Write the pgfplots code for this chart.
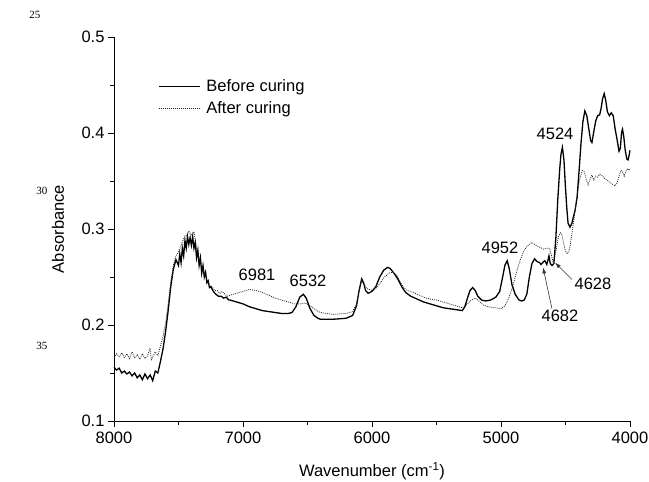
\documentclass[border=0pt]{standalone}
\usepackage{fontspec}
\setmainfont{Liberation Sans}
\newfontfamily\serifnum{Liberation Serif}
\usepackage{pgfplots}
\pgfplotsset{compat=1.18}
\usetikzlibrary{arrows.meta}

\pgfplotstableread{
x y
8000 0.156
7980 0.153
7960 0.155
7940 0.150
7920 0.152
7900 0.149
7880 0.151
7860 0.147
7840 0.150
7820 0.145
7800 0.148
7780 0.143
7760 0.149
7740 0.144
7720 0.148
7700 0.142
7680 0.152
7660 0.150
7640 0.162
7620 0.175
7600 0.193
7580 0.215
7560 0.240
7540 0.258
7520 0.268
7500 0.262
7490 0.274
7480 0.265
7470 0.280
7460 0.272
7450 0.288
7440 0.280
7430 0.292
7420 0.284
7410 0.291
7400 0.283
7390 0.292
7380 0.280
7370 0.286
7360 0.270
7350 0.278
7340 0.262
7330 0.270
7320 0.254
7310 0.262
7300 0.250
7290 0.255
7280 0.244
7270 0.246
7260 0.239
7250 0.240
7230 0.235
7210 0.232
7190 0.230
7170 0.230
7150 0.228
7130 0.229
7110 0.226
7100 0.226
7050 0.224
7000 0.222
6950 0.219
6900 0.217
6850 0.215
6800 0.214
6750 0.213
6700 0.212
6650 0.212
6620 0.213
6590 0.219
6560 0.229
6532 0.232
6510 0.228
6480 0.217
6450 0.210
6420 0.207
6400 0.206
6300 0.206
6200 0.207
6150 0.210
6120 0.220
6100 0.236
6080 0.248
6065 0.244
6050 0.236
6030 0.233
6000 0.235
5970 0.240
5940 0.250
5910 0.257
5880 0.260
5860 0.259
5830 0.254
5800 0.248
5770 0.240
5740 0.234
5700 0.230
5650 0.227
5600 0.224
5550 0.222
5500 0.220
5450 0.218
5400 0.217
5350 0.216
5300 0.215
5280 0.219
5260 0.228
5240 0.236
5220 0.239
5200 0.236
5180 0.230
5150 0.226
5120 0.225
5080 0.226
5040 0.229
5010 0.235
4990 0.248
4970 0.262
4952 0.267
4935 0.258
4915 0.242
4890 0.232
4860 0.226
4840 0.225
4820 0.226
4800 0.232
4780 0.250
4760 0.264
4740 0.269
4720 0.266
4700 0.265
4690 0.263
4682 0.264
4670 0.266
4660 0.267
4645 0.263
4635 0.268
4628 0.272
4618 0.264
4605 0.262
4590 0.264
4575 0.290
4560 0.330
4545 0.362
4535 0.378
4524 0.385
4512 0.372
4500 0.343
4490 0.322
4480 0.306
4465 0.302
4450 0.306
4440 0.312
4425 0.320
4410 0.333
4395 0.360
4380 0.389
4365 0.412
4350 0.423
4335 0.418
4320 0.405
4305 0.392
4295 0.390
4280 0.402
4265 0.413
4250 0.418
4235 0.419
4225 0.425
4212 0.436
4200 0.441
4188 0.434
4175 0.422
4160 0.418
4145 0.421
4130 0.418
4115 0.404
4100 0.393
4085 0.381
4075 0.384
4065 0.401
4058 0.404
4048 0.396
4038 0.383
4025 0.373
4015 0.372
4005 0.378
4000 0.382
}\before

\pgfplotstableread{
x y
8000 0.166
7980 0.170
7960 0.167
7940 0.171
7920 0.166
7900 0.170
7880 0.165
7860 0.172
7840 0.166
7820 0.169
7800 0.164
7780 0.170
7760 0.165
7740 0.168
7720 0.176
7710 0.163
7700 0.167
7680 0.172
7660 0.168
7640 0.178
7620 0.188
7600 0.202
7580 0.222
7560 0.245
7540 0.262
7520 0.272
7500 0.276
7480 0.283
7460 0.290
7440 0.293
7420 0.298
7400 0.293
7380 0.297
7360 0.280
7340 0.268
7320 0.262
7300 0.254
7280 0.248
7260 0.241
7240 0.240
7220 0.236
7200 0.236
7180 0.233
7160 0.235
7140 0.232
7120 0.230
7100 0.231
7050 0.233
7000 0.235
6950 0.237
6900 0.236
6850 0.234
6800 0.231
6750 0.228
6700 0.226
6650 0.224
6600 0.222
6550 0.222
6520 0.223
6480 0.220
6440 0.216
6400 0.213
6300 0.211
6200 0.212
6150 0.214
6120 0.222
6100 0.235
6080 0.246
6060 0.242
6040 0.238
6000 0.236
5970 0.238
5940 0.243
5910 0.249
5870 0.254
5840 0.255
5810 0.252
5790 0.247
5760 0.240
5730 0.236
5700 0.235
5650 0.232
5600 0.229
5550 0.227
5500 0.226
5450 0.224
5400 0.222
5350 0.220
5300 0.218
5260 0.222
5230 0.226
5200 0.228
5170 0.225
5140 0.221
5100 0.219
5050 0.218
5000 0.217
4970 0.220
4940 0.228
4910 0.240
4880 0.255
4850 0.268
4820 0.278
4790 0.283
4760 0.286
4730 0.283
4700 0.281
4670 0.279
4645 0.280
4625 0.280
4610 0.273
4597 0.266
4585 0.270
4570 0.280
4555 0.292
4540 0.296
4527 0.294
4515 0.285
4500 0.277
4485 0.274
4470 0.278
4450 0.295
4430 0.315
4410 0.335
4390 0.352
4370 0.361
4355 0.360
4340 0.352
4325 0.346
4310 0.352
4295 0.356
4280 0.351
4265 0.355
4250 0.354
4235 0.357
4220 0.356
4200 0.353
4180 0.351
4160 0.349
4140 0.347
4115 0.345
4100 0.348
4085 0.355
4070 0.361
4060 0.360
4045 0.355
4035 0.359
4020 0.363
4010 0.361
4000 0.362
}\after

\begin{document}
\begin{tikzpicture}
\begin{axis}[
  scale only axis,
  width=516bp, height=384bp,
  xmin=4000, xmax=8000, ymin=0.1, ymax=0.5,
  x dir=reverse,
  axis lines=left,
  axis line style={-, line width=0.9bp},
  tick align=outside,
  major tick length=6bp, minor tick length=3.5bp,
  tick style={line width=0.9bp, black},
  xtick={4000,5000,6000,7000,8000},
  ytick={0.1,0.2,0.3,0.4,0.5},
  minor xtick={4500,5500,6500,7500},
  minor ytick={0.15,0.25,0.35,0.45},
  tick label style={font=\fontsize{16.5bp}{19bp}\selectfont},
  /pgf/number format/assume math mode=true,
  xticklabel style={/pgf/number format/set thousands separator={}, yshift=-1bp},
  yticklabel style={/pgf/number format/.cd, fixed, fixed zerofill, precision=1},
  xlabel={Wavenumber (cm\textsuperscript{-1})},
  ylabel={Absorbance},
  label style={font=\fontsize{16.5bp}{19bp}\selectfont},
  xlabel style={at={(axis description cs:0.5,0)}, anchor=center, yshift=-50bp},
  ylabel style={at={(axis description cs:-0.1085,0.5)}, anchor=center},
  clip=false,
  legend style={draw=none, fill=none, at={(axis description cs:0.085,0.895)}, anchor=north west,
    font=\fontsize{16.5bp}{19bp}\selectfont, row sep=5bp, column sep=4bp, inner sep=0pt},
  legend cell align=left,
  legend image code/.code={\draw[#1] (0bp,0bp) -- (41bp,0bp);},
]
\addplot[black, line width=1.3bp] table {\before};
\addlegendentry{Before curing}
\addplot[black!85, line width=0.8bp, dash pattern=on 0.9bp off 1.1bp] table {\after};
\addlegendentry{After curing}

\node[font=\fontsize{16.5bp}{19bp}\selectfont] at (axis cs:6891,0.252) {6981};
\node[font=\fontsize{16.5bp}{19bp}\selectfont] at (axis cs:6496,0.2465) {6532};
\node[font=\fontsize{16.5bp}{19bp}\selectfont] at (axis cs:5008,0.280) {4952};
\node[font=\fontsize{16.5bp}{19bp}\selectfont] at (axis cs:4581,0.399) {4524};
\node[font=\fontsize{16.5bp}{19bp}\selectfont] at (axis cs:4287,0.243) {4628};
\node[font=\fontsize{16.5bp}{19bp}\selectfont] at (axis cs:4543,0.210) {4682};
\draw[-{Latex[length=6bp,width=4bp]}, line width=0.6bp, black!80] (axis cs:4605,0.217) -- (axis cs:4674,0.260);
\draw[-{Latex[length=6bp,width=4bp]}, line width=0.6bp, black!80] (axis cs:4450,0.2475) -- (axis cs:4581,0.265);
\coordinate (O) at (axis description cs:0,0);
\end{axis}
\path (O) ++(-79bp,406bp) node[font=\serifnum\fontsize{11bp}{13bp}\selectfont] {25};
\path (O) ++(-72bp,230bp) node[font=\serifnum\fontsize{11bp}{13bp}\selectfont] {30};
\path (O) ++(-72bp,75bp) node[font=\serifnum\fontsize{11bp}{13bp}\selectfont] {35};
\pgfresetboundingbox
\path (O) ++(-114bp,-61bp) rectangle ++(649bp,482bp);
\end{tikzpicture}
\end{document}
